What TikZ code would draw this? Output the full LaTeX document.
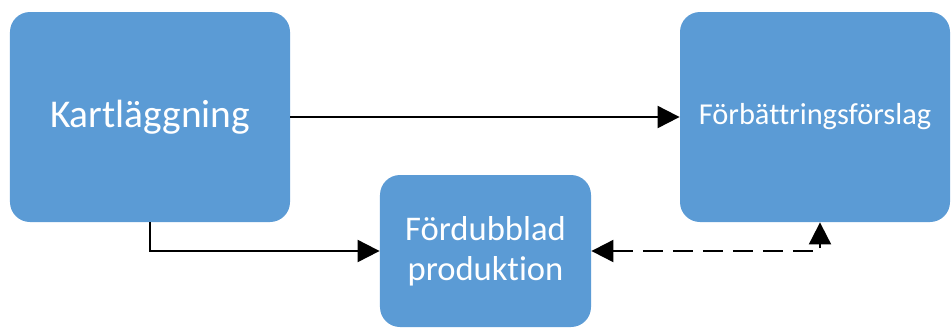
\documentclass[tikz,border=0pt]{standalone}
\usepackage{fontspec}
\setmainfont{Carlito}[Ligatures=NoCommon]
\usetikzlibrary{arrows.meta}
\definecolor{rutblå}{HTML}{5B9BD5}
\tikzset{
	ruta/.style={fill=rutblå, rounded corners=10bp, text=white, align=center, inner sep=0pt},
	spets/.tip={Triangle[length=11bp,width=11bp]},
	pil/.style={line width=1bp, -spets}
}
\begin{document}
\begin{tikzpicture}[x=0.5bp, y=-0.5bp]
	\useasboundingbox (0,0) rectangle (952,329);

	\node[ruta, minimum width=140bp, minimum height=105bp, font=\fontsize{19.7bp}{22bp}\selectfont] (kart) at (150,117) {Kartläggning};
	\node[ruta, minimum width=105.5bp, minimum height=76bp, font=\fontsize{17.3bp}{20bp}\selectfont] (dubbel) at (485.5,251) {Fördubblad\\produktion};
	\node[ruta, minimum width=135bp, minimum height=105bp, font=\fontsize{15.2bp}{18bp}\selectfont] (forslag) at (815,117) {Förbättringsförslag};

	\draw[pil] (kart) -- (forslag);
	\draw[pil] (kart.south) |- (dubbel.west);
	\draw[pil, spets-spets, dash pattern=on 10bp off 5bp] (dubbel.east) -| ([xshift=2.5bp]forslag.south);
\end{tikzpicture}
\end{document}
